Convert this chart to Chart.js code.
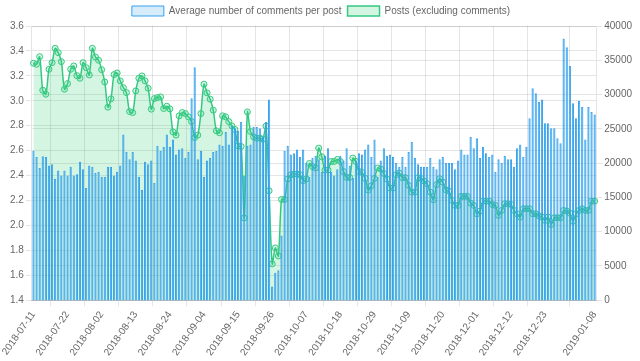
<!DOCTYPE html>
<html lang="en">
<head>
    <meta charset="UTF-8">
    <title>Comments per post</title>
    <script src="https://cdn.jsdelivr.net/npm/chart.js"></script>
    <style>
        body {
            margin: 0;
            padding: 0;
            background: #fff;
        }

        .container {
            width: 640px;
            height: 361px;
        }
    </style>
</head>
<body>
    <div class="container">
        <canvas id="commentsChart" width="640" height="361"></canvas>
    </div>

    <script>
        // first day and number of days shown on the x axis
        const startDay = '2018-07-11';
        const dayCount = 182;

        // average number of comments per post (left axis)
        const avgComments = [
            2.60, 2.55, 2.46, 2.555, 2.55, 2.48, 2.49, 2.375, 2.44, 2.40,
            2.44, 2.40, 2.47, 2.40, 2.41, 2.51, 2.45, 2.30, 2.48, 2.47,
            2.42, 2.43, 2.39, 2.39, 2.47, 2.47, 2.40, 2.43, 2.48, 2.73,
            2.59, 2.53, 2.59, 2.52, 2.39, 2.285, 2.51, 2.49, 2.52, 2.34,
            2.64, 2.60, 2.63, 2.73, 2.63, 2.69, 2.57, 2.61, 2.62, 2.54,
            2.59, 3.02, 3.27, 2.53, 2.60, 2.39, 2.52, 2.54, 2.59, 2.60,
            2.65, 2.64, 2.75, 2.65, 2.80, 2.78, 2.76, 2.83, 2.40, 2.64,
            2.65, 2.79, 2.79, 2.78, 2.71, 2.83, 3.01, 1.51, 1.62, 1.64,
            1.92, 2.60, 2.64, 2.57, 2.58, 2.61, 2.55, 2.61, 2.50, 2.39,
            2.54, 2.56, 2.53, 2.43, 2.56, 2.62, 2.43, 2.40, 2.45, 2.56,
            2.52, 2.62, 2.48, 2.38, 2.52, 2.58, 2.57, 2.61, 2.65, 2.55,
            2.69, 2.39, 2.52, 2.62, 2.56, 2.57, 2.55, 2.50, 2.47, 2.55,
            2.47, 2.59, 2.67, 2.54, 2.49, 2.47, 2.47, 2.47, 2.54, 2.47,
            2.45, 2.53, 2.55, 2.50, 2.50, 2.50, 2.45, 2.52, 2.61, 2.57,
            2.57, 2.71, 2.62, 2.70, 2.54, 2.63, 2.58, 2.55, 2.57, 2.43,
            2.53, 2.50, 2.56, 2.53, 2.53, 2.47, 2.62, 2.65, 2.55, 2.63,
            2.86, 3.10, 3.06, 2.99, 3.01, 2.82, 2.82, 2.78, 2.78, 2.70,
            2.66, 3.50, 3.43, 3.28, 2.98, 2.86, 3.00, 2.95, 2.69, 2.95,
            2.91, 2.89
        ];

        // posts per day, comments excluded (right axis)
        const postCounts = [
            34570, 34420, 35530, 30630, 30050, 33690, 34650, 36750, 36110, 34800,
            30780, 31600, 33690, 34170, 32760, 32380, 34650, 33920, 32860, 36750,
            35480, 35000, 33630, 31840, 28160, 29370, 32910, 33150, 31990, 31010,
            30290, 27520, 27370, 30530, 32380, 32720, 31990, 30920, 27870, 29410,
            29560, 29660, 27960, 28300, 27910, 24560, 24080, 26890, 27370, 27230,
            26750, 26060, 23730, 24080, 27230, 31510, 30240, 29320, 27720, 24710,
            24420, 26890, 26750, 26060, 25440, 24900, 22520, 22420, 12000, 27470,
            24610, 23830, 23640, 23640, 23500, 25390, 15970, 5300, 7630, 6460,
            14700, 14700, 17670, 18300, 18400, 18400, 18300, 17430, 17700, 19950,
            19500, 19300, 22190, 20920, 18990, 18990, 20240, 20240, 20530, 20240,
            18780, 17910, 17910, 20730, 20240, 18780, 18640, 17770, 16070, 16700,
            17770, 19280, 19130, 18490, 17680, 16370, 16370, 18300, 18540, 17870,
            17870, 16750, 15770, 15770, 17870, 17760, 17380, 16990, 15770, 14660,
            16850, 17720, 17230, 16120, 15920, 14560, 13830, 13830, 15140, 15140,
            15140, 14160, 13830, 12610, 13000, 14450, 14450, 14450, 13970, 13830,
            12370, 13100, 14070, 14070, 13970, 13100, 12610, 12120, 13340, 13340,
            13340, 12610, 12610, 12320, 12120, 11640, 12120, 11050, 12030, 12030,
            12030, 13100, 13000, 12700, 11530, 12610, 13100, 13340, 13100, 13100,
            14450, 14450
        ];

        // axis ranges
        const leftTicks = { min: 1.4, max: 3.6, step: 0.2 };
        const rightTicks = { min: 0, max: 40000, step: 5000 };
        const labelEvery = 11;

        const days = [];
        for (let i = 0; i < dayCount; i++) {
            const d = new Date(startDay + 'T00:00:00Z');
            d.setUTCDate(d.getUTCDate() + i);
            days.push(d.toISOString().split('T')[0]);
        }

        // same skipping as the old chart: every 11th day, last one always shown
        function showLabel(i) {
            if (i === dayCount - 1) return true;
            return i % labelEvery === 0 && i + labelEvery < dayCount;
        }

        Chart.defaults.font.family = "'Liberation Sans', Arial, sans-serif";
        Chart.defaults.font.size = 10;
        Chart.defaults.color = '#666';

        const ctx = document.getElementById('commentsChart').getContext('2d');
        const chart = new Chart(ctx, {
            type: 'bar',
            data: {
                labels: days,
                datasets: [{
                    label: 'Average number of comments per post',
                    data: avgComments,
                    yAxisID: 'y',
                    backgroundColor: 'rgba(54, 162, 235, 0.2)',
                    borderColor: 'rgb(54, 162, 235)',
                    borderWidth: 1
                }, {
                    type: 'line',
                    label: 'Posts (excluding comments)',
                    data: postCounts,
                    yAxisID: 'y1',
                    backgroundColor: 'rgba(46, 204, 113, 0.2)',
                    borderColor: 'rgb(52, 201, 130)',
                    borderWidth: 1.5,
                    pointRadius: 3,
                    pointBorderWidth: 1,
                    pointBackgroundColor: 'rgba(46, 204, 113, 0.2)',
                    fill: 'origin',
                    tension: 0.3
                }]
            },
            options: {
                responsive: false,
                animation: false,
                layout: {
                    padding: { left: 8, right: 6, top: 0 }
                },
                plugins: {
                    legend: {
                        labels: {
                            boxWidth: 32,
                            boxHeight: 10,
                            padding: 6
                        }
                    },
                    tooltip: { enabled: false }
                },
                scales: {
                    x: {
                        ticks: {
                            autoSkip: false,
                            maxRotation: 55,
                            minRotation: 55,
                            callback: function (value, index) {
                                return showLabel(index) ? this.getLabelForValue(value) : null;
                            }
                        },
                        grid: {
                            tickLength: 6
                        }
                    },
                    y: {
                        position: 'left',
                        min: leftTicks.min,
                        max: leftTicks.max,
                        ticks: { stepSize: leftTicks.step, padding: 2 },
                        grid: { tickLength: 6 }
                    },
                    y1: {
                        position: 'right',
                        min: rightTicks.min,
                        max: rightTicks.max,
                        ticks: {
                            stepSize: rightTicks.step,
                            padding: 2,
                            callback: value => String(value)
                        },
                        grid: { tickLength: 6 }
                    }
                }
            }
        });
    </script>
</body>
</html>
